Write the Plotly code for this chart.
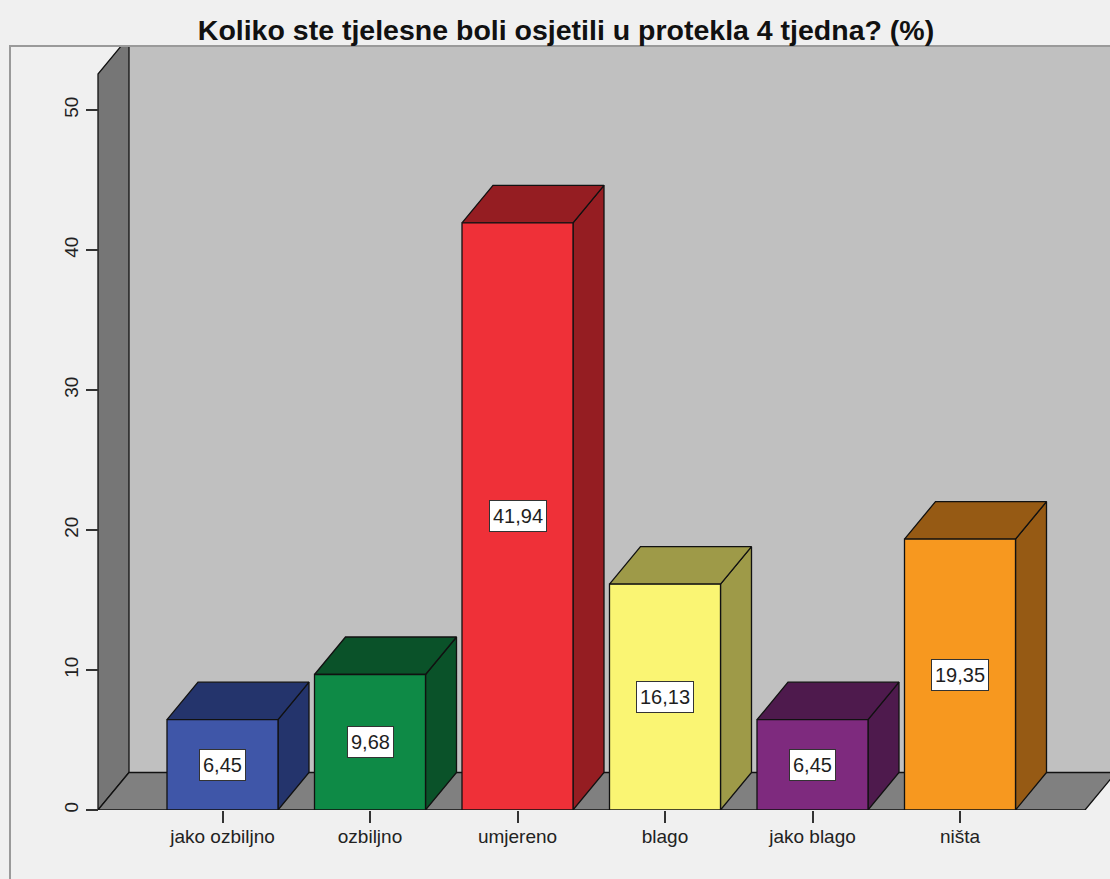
import plotly.graph_objects as go

# ---- data ----
categories = ["jako ozbiljno", "ozbiljno", "umjereno", "blago", "jako blago", "ništa"]
values = [6.45, 9.68, 41.94, 16.13, 6.45, 19.35]
front_colors = ["#3F56A8", "#0E8A46", "#EF3038", "#FAF573", "#7E2A7E", "#F7981F"]
dark_colors = ["#24346C", "#0A5229", "#951D22", "#9E9A48", "#4E1A4D", "#965A14"]
y_ticks = [0, 10, 20, 30, 40, 50]
title_text = "Koliko ste tjelesne boli osjetili u protekla 4 tjedna? (%)"

# ---- geometry (in axis units) ----
W, H = 1110, 879
ML, MR, MT, MB = 10, 0, 46, 69
px_per_cat = 147.5
x_center0 = 222.5
px_per_unit = 14.0

def px2x(px):
    return (px - x_center0) / px_per_cat

x_range = [px2x(ML), px2x(W - MR)]
y_range = [0, (H - MT - MB) / px_per_unit]
bar_w = 111 / px_per_cat
dxu = 31 / px_per_cat        # depth offset, x
dyv = 37.5 / px_per_unit     # depth offset, y
xL = px2x(98)
xR = px2x(1085)
wall_h = (810 - 74) / px_per_unit
top_beyond = y_range[1] + 10
right_beyond = x_range[1] + 1

fig = go.Figure()

def poly(xs, ys, fill, line="#111111", lw=1.3):
    fig.add_trace(go.Scatter(
        x=xs + [xs[0]], y=ys + [ys[0]], mode="lines", fill="toself",
        fillcolor=fill, line=dict(color=line, width=lw),
        hoverinfo="skip", showlegend=False))

# back wall
poly([xL + dxu, right_beyond, right_beyond, xL + dxu],
     [dyv, dyv, top_beyond, top_beyond], "#C0C0C0", line="#C0C0C0", lw=0)
# side wall
poly([xL, xL + dxu, xL + dxu, xL], [0, dyv, wall_h + dyv, wall_h], "#767676")
# floor
poly([xL, xR, xR + dxu, xL + dxu], [0, 0, dyv, dyv], "#808080")

# bars
for i, (v, fc, dc) in enumerate(zip(values, front_colors, dark_colors)):
    l, r = i - bar_w / 2, i + bar_w / 2
    # side face
    poly([r, r + dxu, r + dxu, r], [0, dyv, v + dyv, v], dc)
    # top face
    poly([l, r, r + dxu, l + dxu], [v, v, v + dyv, v + dyv], dc)
    # front face
    poly([l, r, r, l], [0, 0, v, v], fc)

annotations = []
for i, v in enumerate(values):
    annotations.append(dict(
        x=i, y=v / 2, xref="x", yref="y", showarrow=False,
        text=f"{v:.2f}".replace(".", ","), height=24,
        font=dict(family="Liberation Sans, Arial", size=20, color="#1E1E1E"),
        bgcolor="white", bordercolor="#333333", borderwidth=1, borderpad=3))

fig.update_layout(
    width=W, height=H,
    margin=dict(l=ML, r=MR, t=MT, b=MB),
    paper_bgcolor="#F0F0F0", plot_bgcolor="#F0F0F0",
    title=dict(text=f"<b>{title_text}</b>", x=(566 - ML) / (W - ML - MR), xref="paper",
               y=1 - 30 / H, yref="container", xanchor="center", yanchor="middle",
               font=dict(family="Liberation Sans, Arial", size=28.5, color="#111111")),
    xaxis=dict(range=x_range, tickvals=list(range(len(categories))), ticktext=categories,
               ticks="outside", ticklen=12, tickwidth=2, tickcolor="#333333",
               ticklabelstandoff=-3,
               showgrid=False, zeroline=False, showline=False, fixedrange=True,
               tickfont=dict(family="Liberation Sans, Arial", size=19, color="#222222")),
    yaxis=dict(range=y_range, tickvals=y_ticks, ticks="outside", ticklen=12, tickwidth=2,
               tickcolor="#333333", showgrid=False, zeroline=False, showline=False,
               anchor="free", position=(98 - ML) / (W - ML - MR), tickangle=-90,
               fixedrange=True,
               tickfont=dict(family="Liberation Sans, Arial", size=19, color="#222222")),
    annotations=annotations,
    shapes=[dict(type="rect", xref="paper", yref="paper", x0=0, x1=1.1, y0=-0.3, y1=1,
                 line=dict(color="#9A9A9A", width=2), fillcolor="rgba(0,0,0,0)", layer="above")],
)

fig.write_html("out.html", config={"displayModeBar": False},
               post_script="document.body.style.margin='0';document.body.style.overflow='hidden';")
